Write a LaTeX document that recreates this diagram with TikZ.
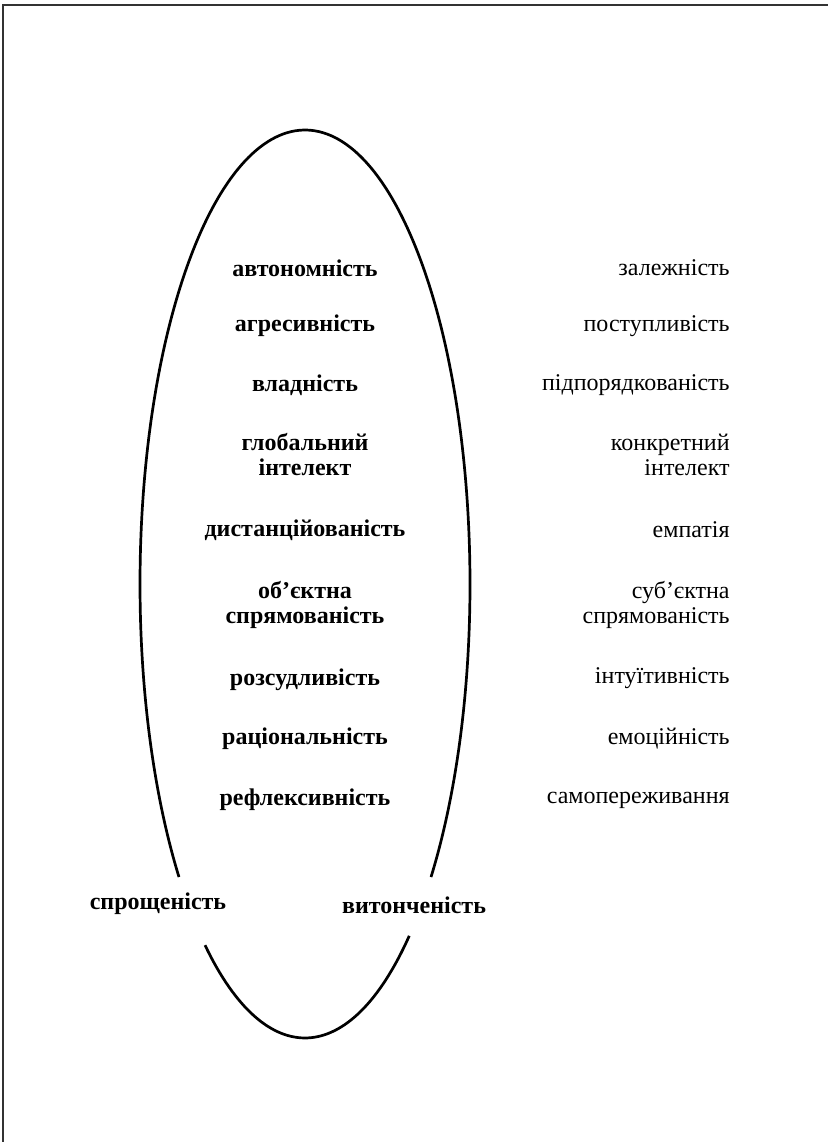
\documentclass[tikz,border=0pt]{standalone}
\usepackage{fontspec}
\setmainfont{Liberation Serif}
\usepackage{tikz}
\usetikzlibrary{positioning}

\begin{document}
\begin{tikzpicture}[
    x=0.5pt, y=0.5pt,
    trait/.style={font=\fontsize{12pt}{12.5pt}\selectfont\bfseries, align=center, inner sep=0pt},
    antitrait/.style={font=\fontsize{12pt}{12.5pt}\selectfont, align=right, anchor=east, inner sep=0pt},
    pole/.style={font=\fontsize{12pt}{12.5pt}\selectfont\bfseries, inner sep=0pt}
]
    \useasboundingbox (0,0) rectangle (828,-1142);
    % frame
    \draw[line width=0.6pt, black!80] (828,-5) -- (3,-5) -- (3,-1142);

    % ellipse with two gaps
    \coordinate (O) at (305,-584);
    \draw[line width=1.35pt] (O) ++(-40.2:165 and 454)
        arc[start angle=-40.2, end angle=220.2, x radius=165, y radius=454];
    \draw[line width=1.35pt] (O) ++(232.7:165 and 454)
        arc[start angle=232.7, end angle=309.2, x radius=165, y radius=454];

    % inner traits
    \node[trait] (auto) at (305,-268) {автономність};
    \node[trait] (agr)  at (305,-326) {агресивність};
    \node[trait] (vlad) at (305,-385) {владність};
    \node[trait] (glob) at (305,-455) {глобальний\\інтелект};
    \node[trait] (dist) at (305,-530) {дистанційованість};
    \node[trait] (obj)  at (305,-605) {об’єктна\\спрямованість};
    \node[trait] (rozs) at (305,-680) {розсудливість};
    \node[trait] (rats) at (305,-739) {раціональність};
    \node[trait] (refl) at (305,-800) {рефлексивність};

    % outer traits
    \node[antitrait] (zal)  at (730,-268) {залежність};
    \node[antitrait] (post) at (730,-326) {поступливість};
    \node[antitrait] (pidp) at (730,-385) {підпорядкованість};
    \node[antitrait] (konk) at (730,-455) {конкретний\\інтелект};
    \node[antitrait] (emp)  at (730,-530) {емпатія};
    \node[antitrait] (subj) at (730,-605) {субʼєктна\\спрямованість};
    \node[antitrait] (intu) at (730,-678) {інтуїтивність};
    \node[antitrait] (emoc) at (730,-739) {емоційність};
    \node[antitrait] (samo) at (730,-800) {самопереживання};

    % poles
    \node[pole] (sprosh) at (158,-904) {спрощеність};
    \node[pole] (vyton)  at (414,-905) {витонченість};
\end{tikzpicture}
\end{document}
